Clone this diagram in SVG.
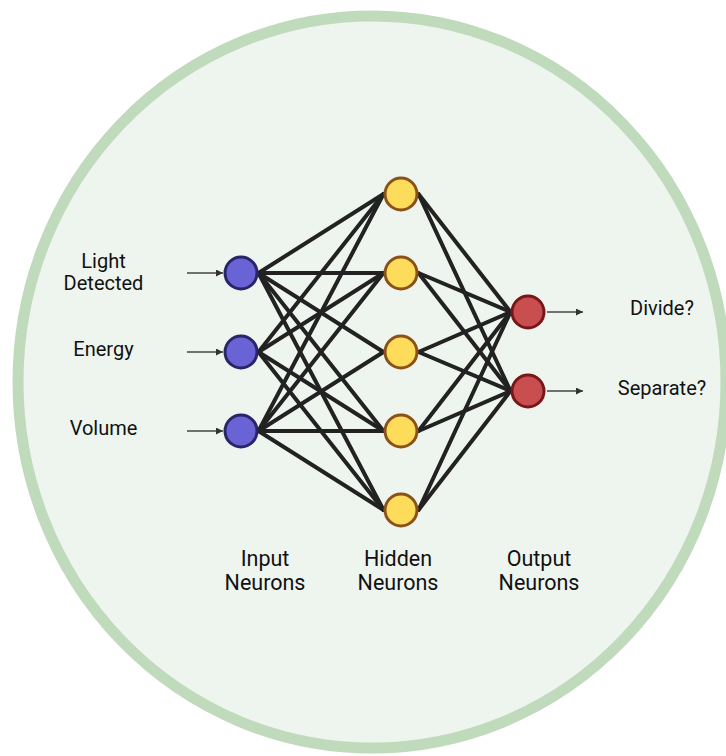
<svg xmlns="http://www.w3.org/2000/svg" width="726" height="756" viewBox="0 0 726 756">
<defs>
<marker id="arr" viewBox="0 0 10 10" refX="10" refY="5" markerWidth="7" markerHeight="7" markerUnits="userSpaceOnUse" orient="auto">
<path d="M0,0 L10,5 L0,10 z" fill="#333"/>
</marker>
</defs>
<style>
.lbl{font-family:Roboto,"Liberation Sans",sans-serif;font-size:20px;fill:#111;text-anchor:middle}
.big{font-size:21.5px}
.edge{stroke:#222;stroke-width:4;stroke-linecap:round}
.io{stroke:#444;stroke-width:1.4;fill:none}
.in{fill:#6a63d6;stroke:#2a2566;stroke-width:3}
.hid{fill:#fddc5c;stroke:#8a5219;stroke-width:3}
.out{fill:#c94e4f;stroke:#7a161a;stroke-width:3}
</style>
<rect width="726" height="756" fill="#ffffff"/>
<g id="background">
<ellipse cx="372" cy="382" rx="354" ry="366" fill="#eef5ee" stroke="#c0dabc" stroke-width="11"/>
</g>
<g id="connectors">
<g class="edge">
<line x1="258.5" y1="273" x2="383.5" y2="194"/>
<line x1="258.5" y1="273" x2="383.5" y2="273"/>
<line x1="258.5" y1="273" x2="383.5" y2="352"/>
<line x1="258.5" y1="273" x2="383.5" y2="431"/>
<line x1="258.5" y1="273" x2="383.5" y2="510"/>
<line x1="258.5" y1="352" x2="383.5" y2="194"/>
<line x1="258.5" y1="352" x2="383.5" y2="273"/>
<line x1="258.5" y1="352" x2="383.5" y2="431"/>
<line x1="258.5" y1="352" x2="383.5" y2="510"/>
<line x1="258.5" y1="431" x2="383.5" y2="194"/>
<line x1="258.5" y1="431" x2="383.5" y2="273"/>
<line x1="258.5" y1="431" x2="383.5" y2="352"/>
<line x1="258.5" y1="431" x2="383.5" y2="431"/>
<line x1="258.5" y1="431" x2="383.5" y2="510"/>
<line x1="418.5" y1="194" x2="510.5" y2="312"/>
<line x1="418.5" y1="194" x2="510.5" y2="391"/>
<line x1="418.5" y1="273" x2="510.5" y2="312"/>
<line x1="418.5" y1="273" x2="510.5" y2="391"/>
<line x1="418.5" y1="352" x2="510.5" y2="312"/>
<line x1="418.5" y1="352" x2="510.5" y2="391"/>
<line x1="418.5" y1="431" x2="510.5" y2="312"/>
<line x1="418.5" y1="431" x2="510.5" y2="391"/>
<line x1="418.5" y1="510" x2="510.5" y2="312"/>
<line x1="418.5" y1="510" x2="510.5" y2="391"/>
</g>
<g class="io" marker-end="url(#arr)">
<line x1="187" y1="273" x2="223" y2="273"/>
<line x1="187" y1="352" x2="223" y2="352"/>
<line x1="187" y1="431" x2="223" y2="431"/>
<line x1="547" y1="312" x2="583" y2="312"/>
<line x1="547" y1="391" x2="583" y2="391"/>
</g>
</g>
<g id="input1"><circle class="in" cx="241" cy="273" r="16"/></g>
<g id="input2"><circle class="in" cx="241" cy="352" r="16"/></g>
<g id="input3"><circle class="in" cx="241" cy="431" r="16"/></g>
<g id="hidden1"><circle class="hid" cx="401" cy="194" r="16"/></g>
<g id="hidden2"><circle class="hid" cx="401" cy="273" r="16"/></g>
<g id="hidden3"><circle class="hid" cx="401" cy="352" r="16"/></g>
<g id="hidden4"><circle class="hid" cx="401" cy="431" r="16"/></g>
<g id="hidden5"><circle class="hid" cx="401" cy="510" r="16"/></g>
<g id="output1"><circle class="out" cx="528" cy="312" r="16"/></g>
<g id="output2"><circle class="out" cx="528" cy="391" r="16"/></g>
<g id="labels">
<text class="lbl" x="103.5" y="268">Light</text>
<text class="lbl" x="103.5" y="290">Detected</text>
<text class="lbl" x="103.5" y="356">Energy</text>
<text class="lbl" x="103.5" y="435">Volume</text>
<text class="lbl" x="662" y="315">Divide?</text>
<text class="lbl" x="662" y="395">Separate?</text>
<text class="lbl big" x="265" y="566">Input</text>
<text class="lbl big" x="265" y="590">Neurons</text>
<text class="lbl big" x="398" y="566">Hidden</text>
<text class="lbl big" x="398" y="590">Neurons</text>
<text class="lbl big" x="539" y="566">Output</text>
<text class="lbl big" x="539" y="590">Neurons</text>
</g>
</svg>
